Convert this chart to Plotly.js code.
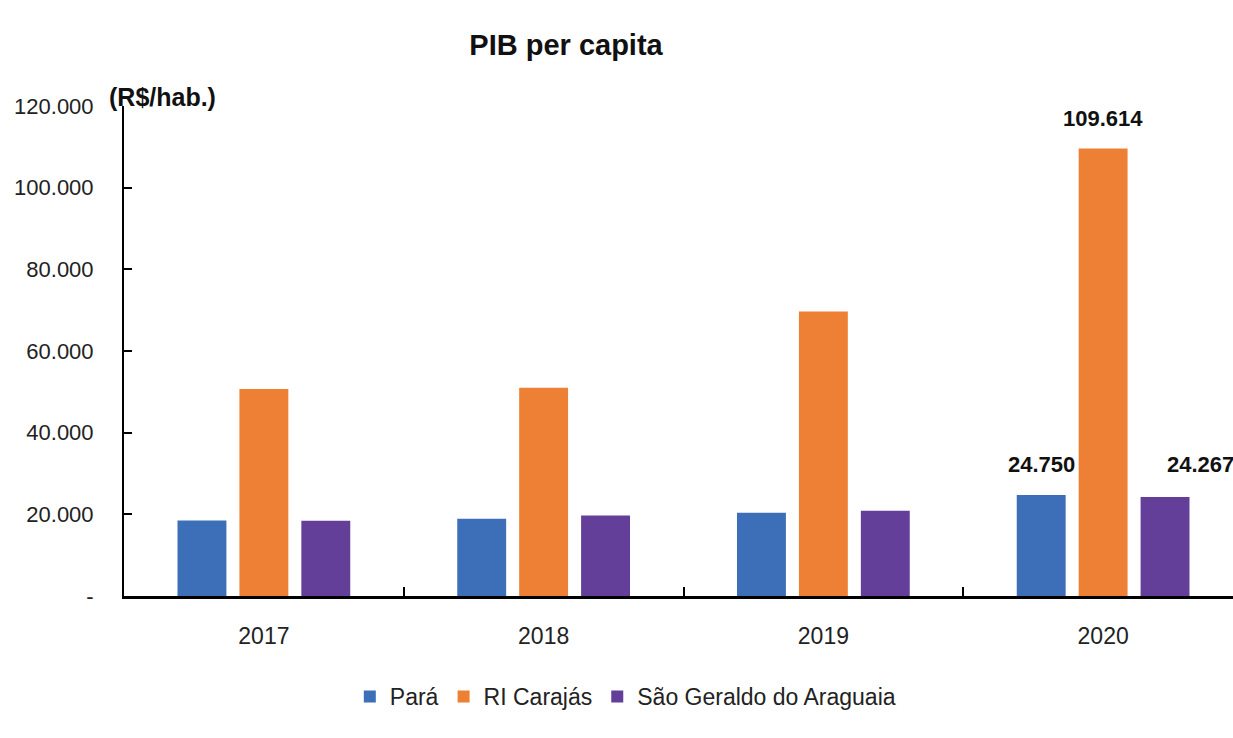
<!DOCTYPE html>
<html>
<head>
<meta charset="utf-8">
<script src="https://cdn.plot.ly/plotly-3.0.1.min.js"></script>
<style>
  html, body { margin: 0; padding: 0; background: #fff; overflow: hidden; }
  #chart { width: 1250px; height: 738px; }
</style>
</head>
<body>
<div id="chart"></div>
<script>
const years = ['2017', '2018', '2019', '2020'];
const para = [18500, 18900, 20400, 24750];
const riCarajas = [50700, 51000, 69700, 109614];
const saoGeraldo = [18450, 19700, 20900, 24267];
const seriesNames = ['Pará', 'RI Carajás', 'São Geraldo do Araguaia'];
const seriesColors = ['#3d6fb8', '#ee8036', '#643f99'];
const yTickVals = [0, 20000, 40000, 60000, 80000, 100000, 120000];
const yTickText = ['-', '20.000', '40.000', '60.000', '80.000', '100.000', '120.000'];
const labelTexts = ['24.750', '109.614', '24.267'];

const fontFam = 'Liberation Sans, Arial, sans-serif';
const allSeries = [para, riCarajas, saoGeraldo];
const traces = allSeries.map((vals, i) => ({
  type: 'bar',
  name: seriesNames[i],
  x: years,
  y: vals,
  marker: { color: seriesColors[i] },
  hoverinfo: 'skip'
}));

const last = years.length - 1;
const labelShifts = [[-62, 18], [0, 18], [97, 20]];
const annotations = allSeries.map((vals, i) => ({
  x: last, y: vals[last], xref: 'x', yref: 'y',
  text: '<b>' + labelTexts[i] + '</b>',
  showarrow: false, xanchor: 'center', yanchor: 'middle',
  xshift: labelShifts[i][0], yshift: labelShifts[i][1] + 12,
  font: { family: fontFam, size: 22, color: '#111' }
}));
annotations.push({
  x: (107 - 124) / 1119, y: 1, xref: 'paper', yref: 'paper',
  text: '<b>(R$/hab.)</b>', showarrow: false,
  xanchor: 'left', yanchor: 'middle', yshift: 9,
  font: { family: fontFam, size: 25, color: '#111' }
});

const layout = {
  width: 1250, height: 738,
  margin: { l: 124, r: 7, t: 106, b: 141.5 },
  paper_bgcolor: '#fff', plot_bgcolor: '#fff',
  font: { family: fontFam, color: '#222' },
  title: {
    text: '<b>PIB per capita</b>',
    x: 566 / 1250, xref: 'container', xanchor: 'center',
    y: 1 - 45 / 738, yref: 'container', yanchor: 'middle',
    font: { family: fontFam, size: 29, color: '#111' }
  },
  barmode: 'group',
  bargap: 0.336,
  bargroupgap: 0.21,
  showlegend: true,
  legend: {
    orientation: 'h', x: 0.448, xanchor: 'center',
    y: -0.205, yanchor: 'middle',
    font: { family: fontFam, size: 23, color: '#222' },
    itemclick: false, itemwidth: 30, traceorder: 'normal'
  },
  xaxis: {
    type: 'category',
    range: [-0.5, years.length - 0.5], autorange: false,
    showline: true, linecolor: '#000', linewidth: 3,
    ticks: 'inside', tickson: 'boundaries', ticklen: 9, tickwidth: 2, tickcolor: '#000',
    showgrid: false, zeroline: false,
    tickangle: 0,
    tickfont: { family: fontFam, size: 23, color: '#222' },
    ticklabelstandoff: 17,
    fixedrange: true
  },
  yaxis: {
    range: [0, 120000], autorange: false,
    tickvals: yTickVals, ticktext: yTickText,
    showline: true, linecolor: '#000', linewidth: 2,
    ticks: 'inside', ticklen: 8, tickwidth: 2, tickcolor: '#000',
    showgrid: false, zeroline: false,
    tickfont: { family: fontFam, size: 22, color: '#222' },
    ticklabelstandoff: 24,
    fixedrange: true
  },
  annotations: annotations
};

Plotly.newPlot('chart', traces, layout, { displayModeBar: false, staticPlot: true });
</script>
</body>
</html>
